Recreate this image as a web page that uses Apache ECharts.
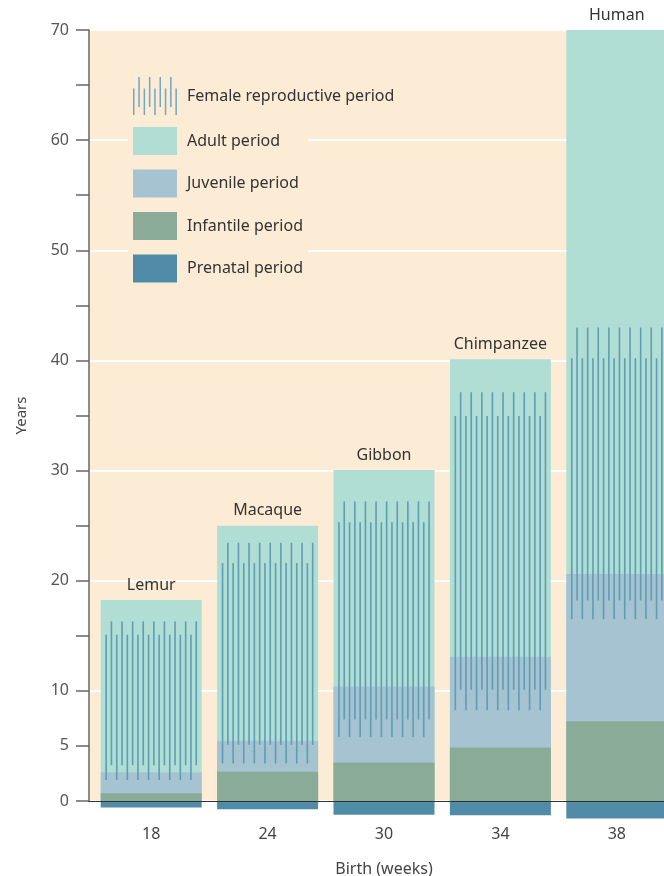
<!DOCTYPE html>
<html lang="en">
<head>
    <meta charset="UTF-8">
    <title>Life periods</title>
    <script src="https://cdn.jsdelivr.net/npm/echarts@6/dist/echarts.min.js"></script>
    <style>
        *{
            margin: 0;
            padding: 0;
        }
        .container{
            width: 664px;
            height: 876px;
        }
    </style>
</head>
<body>
<div class="container"></div>
<script>
    // values (years)
    let species = ['Lemur', 'Macaque', 'Gibbon', 'Chimpanzee', 'Human']
    let birthWeeks = ['18', '24', '30', '34', '38']
    let adultEnd = [18.25, 25, 30.05, 40.1, 70]
    let juvenileEnd = [2.6, 5.45, 10.4, 13.1, 20.6]
    let infantileEnd = [0.7, 2.66, 3.5, 4.85, 7.25]
    let prenatal = [-0.6, -0.75, -1.25, -1.3, -1.6]
    // two staggered sets of lines for the reproductive period
    let reproStartA = [1.9, 3.4, 5.8, 8.25, 16.5]
    let reproEndA = [15.1, 21.6, 25.3, 34.95, 40.2]
    let reproStartB = [3.25, 5.1, 7.4, 10.1, 18.2]
    let reproEndB = [16.3, 23.45, 27.2, 37.1, 43.0]
    let yLabels = [0, 5, 10, 20, 30, 40, 50, 60, 70]

    let peach = '#fdecd5'
    let lineColor = '#5f9cb5'
    let barW = 101
    let font = 'Noto Sans'

    let container = document.querySelector('.container')
    let chart = echarts.init(container)

    // legend icon: little staggered lines
    let iconPath = 'path://'
    for (let i = 0; i < 9; i++) {
        let x = (i * 5.3).toFixed(1)
        if (i % 2 === 0) {
            iconPath += 'M' + x + ',11.6h1.5v26.4h-1.5z'
        } else {
            iconPath += 'M' + x + ',0h1.5v30h-1.5z'
        }
    }

    function renderRepro(params, api) {
        let idx = api.value(0)
        let cx = api.coord([idx, 0])[0]
        let children = []
        for (let i = 0; i < 18; i++) {
            let lo = i % 2 === 0 ? api.value(1) : api.value(3)
            let hi = i % 2 === 0 ? api.value(2) : api.value(4)
            let x = cx + (i - 8.5) * 5.3
            children.push({
                type: 'line',
                shape: {x1: x, y1: api.coord([idx, lo])[1], x2: x, y2: api.coord([idx, hi])[1]},
                style: {stroke: lineColor, lineWidth: 1.6}
            })
        }
        return {type: 'group', children}
    }

    let reproData = species.map((s, i) => [i, reproStartA[i], reproEndA[i], reproStartB[i], reproEndB[i]])

    let option = {
        textStyle: {fontFamily: font},
        grid: [
            {left: 89, right: 0, top: 30, bottom: 75, show: true, backgroundColor: peach, borderWidth: 0, outerBoundsMode: 'none'},
            {left: 93, width: 582, top: 30, bottom: 75, outerBoundsMode: 'none'}
        ],
        legend: [
            {
                left: 128, top: 72, padding: 5,
                orient: 'vertical',
                selectedMode: false,
                data: ['Female reproductive period'],
                icon: iconPath,
                itemWidth: 44, itemHeight: 38,
                textStyle: {fontSize: 16, color: '#333', padding: [0, 0, 0, 5]}
            },
            {
                left: 128, top: 122, padding: 5,
                orient: 'vertical',
                selectedMode: false,
                backgroundColor: peach,
                data: ['Adult period', 'Juvenile period', 'Infantile period', 'Prenatal period'],
                icon: 'rect',
                itemWidth: 44, itemHeight: 28, itemGap: 14.5,
                textStyle: {fontSize: 16, color: '#333', padding: [0, 0, 0, 5]}
            }
        ],
        xAxis: [
            {
                gridIndex: 0, type: 'value', min: 0, max: 1, z: 10,
                axisLine: {show: true, onZero: false, lineStyle: {color: '#333', width: 1.2}},
                axisTick: {show: false}, axisLabel: {show: false}, splitLine: {show: false}
            },
            {
                gridIndex: 1, type: 'category', data: birthWeeks,
                axisLine: {show: false}, axisTick: {show: false},
                axisLabel: {fontSize: 16, color: '#444', margin: 25},
                name: 'Birth (weeks)', nameLocation: 'middle', nameGap: 60,
                nameTextStyle: {fontSize: 16, color: '#444'}
            }
        ],
        yAxis: [
            {
                gridIndex: 0, type: 'value', min: 0, max: 70, interval: 5,
                axisLine: {show: true, lineStyle: {color: '#666', width: 1.5}},
                axisTick: {show: true, length: 13, lineStyle: {color: '#666', width: 1.5}},
                axisLabel: {
                    fontSize: 16, color: '#555', margin: 20,
                    formatter: v => yLabels.includes(v) ? String(v) : ''
                },
                splitLine: {show: false},
                name: 'Years', nameLocation: 'middle', nameGap: 60,
                nameTextStyle: {fontSize: 15, color: '#444'}
            },
            {
                gridIndex: 0, type: 'value', min: 0, max: 70, interval: 10,
                axisLine: {show: false}, axisTick: {show: false}, axisLabel: {show: false},
                splitLine: {show: true, lineStyle: {color: '#ffffff', width: 2}}
            },
            {
                gridIndex: 1, type: 'value', min: 0, max: 70, show: false
            }
        ],
        series: [
            {
                name: 'Adult period', type: 'bar', xAxisIndex: 1, yAxisIndex: 2,
                barWidth: barW, barGap: '-100%',
                itemStyle: {color: '#b0ded4'},
                label: {
                    show: true, position: 'top', distance: 7,
                    fontSize: 16, color: '#333',
                    formatter: p => species[p.dataIndex]
                },
                data: adultEnd
            },
            {
                name: 'Juvenile period', type: 'bar', xAxisIndex: 1, yAxisIndex: 2,
                barWidth: barW, barGap: '-100%',
                itemStyle: {color: '#a6c3d1'},
                data: juvenileEnd
            },
            {
                name: 'Infantile period', type: 'bar', xAxisIndex: 1, yAxisIndex: 2,
                barWidth: barW, barGap: '-100%',
                itemStyle: {color: '#89ab97'},
                data: infantileEnd
            },
            {
                name: 'Prenatal period', type: 'bar', xAxisIndex: 1, yAxisIndex: 2,
                barWidth: barW, barGap: '-100%', clip: false,
                itemStyle: {color: '#508ba8'},
                data: prenatal
            },
            {
                name: 'Female reproductive period', type: 'custom',
                xAxisIndex: 1, yAxisIndex: 2, z: 3,
                itemStyle: {color: '#6fa8bf'},
                renderItem: renderRepro,
                encode: {x: 0, y: [1, 2, 3, 4]},
                data: reproData
            }
        ]
    }

    chart.setOption(option)
</script>
</body>
</html>
